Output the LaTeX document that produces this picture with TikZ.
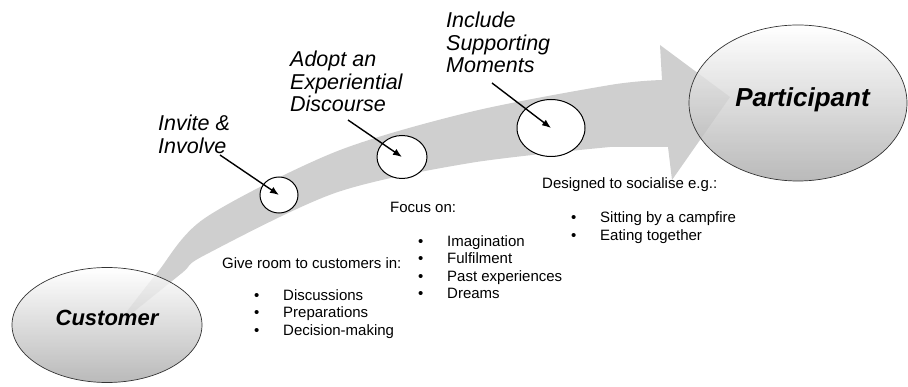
\documentclass[tikz,border=0pt]{standalone}
\usepackage{fontspec}
\setmainfont{Liberation Sans}
\usetikzlibrary{arrows.meta,shapes.geometric}
\begin{document}
\begin{tikzpicture}[x=1pt, y=-1pt,
        stage/.style = {shape=ellipse, draw=black!80, line width=.7pt, top color=white, bottom color=black!34,
                        fill opacity=.8, text opacity=1, font=\fontsize{22}{24}\selectfont\bfseries\itshape},
        ring/.style = {shape=ellipse, draw, line width=1pt, fill=white, inner sep=0pt},
        tag/.style = {anchor=north west, inner sep=0pt, align=left, font=\fontsize{21.5}{22.5}\selectfont\itshape},
        note/.style = {anchor=west, inner sep=0pt, align=left, font=\fontsize{15}{17.5}\selectfont},
        pointer/.style = {-{Latex[length=9pt,width=7pt]}, line width=1.4pt}]
    \useasboundingbox (0,0) rectangle (908,387);
    \fill[black!19] plot[smooth] coordinates {(122,318) (157,273) (205,218) (335,152) (470,112) (610,85) (662,80)}
        -- (660,45) -- (730,97) -- (672,180) -- (668,147)
        -- plot[smooth] coordinates {(610,147) (470,163) (335,193) (205,255) (182,273) (126,318)} -- cycle;
    \node[stage, minimum width=190pt, minimum height=115pt, text depth=14pt] (customer) at (107,325) {Customer};
    \node[stage, minimum width=218pt, minimum height=156pt, text depth=12pt, font=\fontsize{26}{28}\selectfont\bfseries\itshape]
        (participant) at (798,103) {\hspace*{9pt}Participant};
    \node[ring, minimum width=38pt, minimum height=36pt] (inviteRing) at (279,195) {};
    \node[ring, minimum width=50pt, minimum height=43pt] (adoptRing) at (402,157) {};
    \node[ring, minimum width=68pt, minimum height=57pt] (includeRing) at (551,128) {};
    \node[tag] (invite) at (158,115) {Invite \&\\Involve};
    \node[tag] (adopt) at (290,51) {Adopt an\\Experiential\\Discourse};
    \node[tag] (include) at (446,12) {Include\\Supporting\\Moments};
    \coordinate (inviteTail) at (220,155);
    \coordinate (adoptTail) at (348,120);
    \coordinate (includeTail) at (492,83);
    \draw[pointer] (inviteTail) -- (inviteRing.center);
    \draw[pointer] (adoptTail) -- (adoptRing.center);
    \draw[pointer] (includeTail) -- (includeRing.center);
    \node[note] (roomHead) at (222,263) {Give room to customers in:};
    \node[note] (roomList) at (254,314) {\makebox[29pt][l]{\textbullet}Discussions\\
        \makebox[29pt][l]{\textbullet}Preparations\\\makebox[29pt][l]{\textbullet}Decision-making};
    \node[note] (focusHead) at (390,207) {Focus on:};
    \node[note] (focusList) at (418,267) {\makebox[29pt][l]{\textbullet}Imagination\\
        \makebox[29pt][l]{\textbullet}Fulfilment\\\makebox[29pt][l]{\textbullet}Past experiences\\
        \makebox[29pt][l]{\textbullet}Dreams};
    \node[note] (socialHead) at (542,185) {Designed to socialise e.g.:};
    \node[note] (socialList) at (571,227.5) {\makebox[29pt][l]{\textbullet}Sitting by a campfire\\
        \makebox[29pt][l]{\textbullet}Eating together};
\end{tikzpicture}
\end{document}
